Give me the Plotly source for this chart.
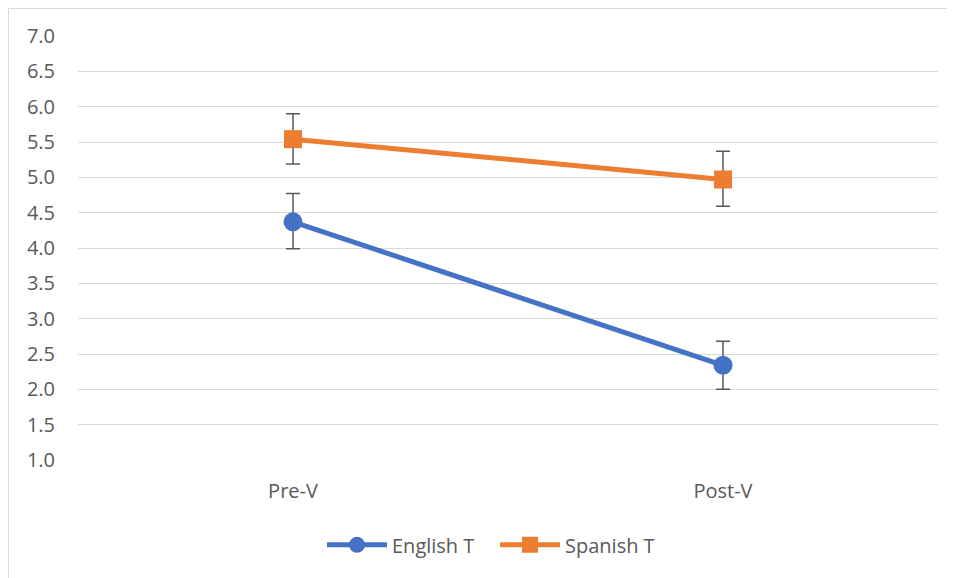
import plotly.graph_objects as go

categories = ["Pre-V", "Post-V"]
english_vals = [4.37, 2.34]
english_err_plus = [0.40, 0.34]
english_err_minus = [0.38, 0.34]
spanish_vals = [5.54, 4.97]
spanish_err_plus = [0.36, 0.40]
spanish_err_minus = [0.35, 0.38]
y_ticks = [1.0, 1.5, 2.0, 2.5, 3.0, 3.5, 4.0, 4.5, 5.0, 5.5, 6.0, 6.5, 7.0]

OFF = 8  # page body margin
W, H = 955 - OFF, 578 - OFF
L, R, T, B = 78 - OFF, 17, 36 - OFF, 118

err_style = dict(type="data", symmetric=False, color="#595959", thickness=1.5, width=7)

fig = go.Figure()
fig.add_trace(go.Scatter(
    x=categories, y=english_vals, name="English T", mode="lines+markers",
    line=dict(color="#4472C4", width=5),
    marker=dict(symbol="circle", size=19, color="#4472C4"),
    error_y=dict(array=english_err_plus, arrayminus=english_err_minus, **err_style),
))
fig.add_trace(go.Scatter(
    x=categories, y=spanish_vals, name="Spanish T", mode="lines+markers",
    line=dict(color="#ED7D31", width=5),
    marker=dict(symbol="square", size=18, color="#ED7D31"),
    error_y=dict(array=spanish_err_plus, arrayminus=spanish_err_minus, **err_style),
))

pw = W - L - R
ph = H - T - B
bx0 = (0.5 - L) / pw
bx1 = (W - L) / pw
by_top = 1 + (T - 0.5) / ph
by_bot = -(H - T - ph) / ph
border = dict(color="#D9D9D9", width=1)
fig.add_shape(type="line", xref="paper", yref="paper", x0=bx0, x1=bx1, y0=by_top, y1=by_top,
              line=border, layer="below")
fig.add_shape(type="line", xref="paper", yref="paper", x0=bx0, x1=bx0, y0=by_bot, y1=by_top,
              line=border, layer="below")

fig.update_layout(
    width=W, height=H,
    margin=dict(l=L, r=R, t=T, b=B),
    paper_bgcolor="white", plot_bgcolor="white",
    font=dict(family="Open Sans", size=20, color="#595959"),
    showlegend=True,
    legend=dict(orientation="h", x=(322 - OFF - L) / pw, xanchor="left", y=-0.2, yanchor="middle",
                font=dict(size=20, color="#595959"), itemwidth=60,
                entrywidth=98, entrywidthmode="pixels"),
)
fig.update_xaxes(type="category", range=[-0.5, 1.5], showgrid=False, showline=False,
                 zeroline=False, ticks="", ticklabelstandoff=17,
                 tickfont=dict(size=20, color="#595959"))
fig.update_yaxes(range=[1, 7], tickvals=y_ticks, ticktext=[f"{v:.1f}" for v in y_ticks],
                 showgrid=True, gridcolor="#D9D9D9", gridwidth=1, zeroline=False,
                 showline=False, ticks="", ticklabelstandoff=22,
                 tickfont=dict(size=20, color="#595959"))

fig.write_html("out.html")
